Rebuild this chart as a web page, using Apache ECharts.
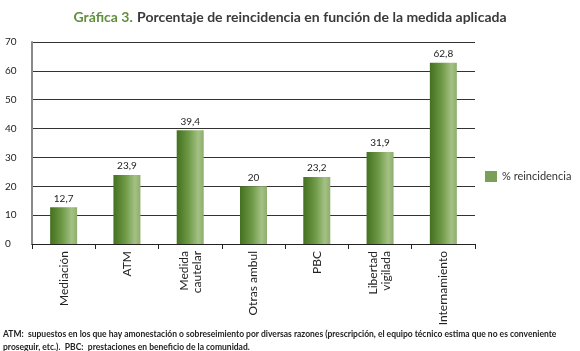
<!DOCTYPE html>
<html>
<head>
<meta charset="utf-8">
<script src="https://cdn.jsdelivr.net/npm/echarts@6/dist/echarts.min.js"></script>
<style>
html, body { margin: 0; padding: 0; background: #fff; }
#chart { width: 580px; height: 351px; }
</style>
</head>
<body>
<div id="chart"></div>
<script>
// datos de la gráfica
const categorias = ['Mediación', 'ATM', 'Medida\ncautelar', 'Otras ambul', 'PBC', 'Libertad\nvigilada', 'Internamiento'];
const reincidencia = [12.7, 23.9, 39.4, 20, 23.2, 31.9, 62.8];
const serieNombre = '% reincidencia';

const chart = echarts.init(document.getElementById('chart'));

const barColor = new echarts.graphic.LinearGradient(0, 0, 1, 0, [
    { offset: 0, color: '#43711f' },
    { offset: 0.45, color: '#6f9a48' },
    { offset: 0.8, color: '#a4c184' },
    { offset: 1, color: '#8eae6c' }
]);

const notaRich = {
    b: { fontSize: 8.5, fontWeight: 'bold', color: '#222', fontFamily: 'Lato' },
    n: { fontSize: 8.5, color: '#222', fontFamily: 'Lato' }
};

chart.setOption({
    animation: false,
    textStyle: { fontFamily: 'Lato' },
    title: [{
        left: 'center',
        top: 3,
        text: '{g|Gráfica 3.} {t|Porcentaje de reincidencia en función de la medida aplicada}',
        textStyle: {
            rich: {
                g: { color: '#5f8f3c', fontSize: 14, fontFamily: 'Lato' },
                t: { color: '#3a3a3a', fontSize: 14, fontFamily: 'Lato' }
            }
        }
    }, {
        left: 3,
        top: 325,
        padding: 0,
        text: '{b|ATM:} {n|supuestos en los que hay amonestación o sobreseimiento por diversas razones (prescripción, el equipo técnico estima que no es conveniente}',
        textStyle: { rich: notaRich }
    }, {
        left: 3,
        top: 338,
        padding: 0,
        text: '{n|proseguir, etc.).} {b|PBC:} {n|prestaciones en beneficio de la comunidad.}',
        textStyle: { rich: notaRich }
    }],
    legend: {
        data: [{ name: serieNombre, itemStyle: { color: '#7b9e58' } }],
        left: 480,
        top: 166,
        icon: 'rect',
        itemWidth: 12,
        itemHeight: 11,
        itemGap: 6,
        textStyle: { fontSize: 11, color: '#333', fontFamily: 'Lato' }
    },
    grid: { left: 32, right: 105, top: 42, bottom: 107 },
    xAxis: {
        type: 'category',
        data: categorias,
        axisLine: { lineStyle: { color: '#222', width: 1 } },
        axisTick: { show: true, length: 5, lineStyle: { color: '#222' } },
        axisLabel: {
            rotate: 90,
            interval: 0,
            fontSize: 12,
            color: '#222',
            margin: 7,
            lineHeight: 13,
            fontFamily: 'Lato'
        }
    },
    yAxis: {
        type: 'value',
        min: 0,
        max: 70,
        interval: 10,
        axisLine: { show: true, lineStyle: { color: '#8a8a8a', width: 2 } },
        axisTick: { show: false },
        splitLine: { lineStyle: { color: '#333', width: 1 } },
        axisLabel: {
            align: 'left',
            margin: 27,
            fontSize: 10,
            color: '#222',
            fontFamily: 'Lato'
        }
    },
    series: [{
        name: serieNombre,
        type: 'bar',
        data: reincidencia,
        barWidth: 27,
        itemStyle: { color: barColor },
        label: {
            show: true,
            position: 'top',
            distance: 4,
            fontSize: 10,
            color: '#222',
            fontFamily: 'Lato',
            formatter: function (p) { return String(p.value).replace('.', ','); }
        }
    }]
});
</script>
</body>
</html>
